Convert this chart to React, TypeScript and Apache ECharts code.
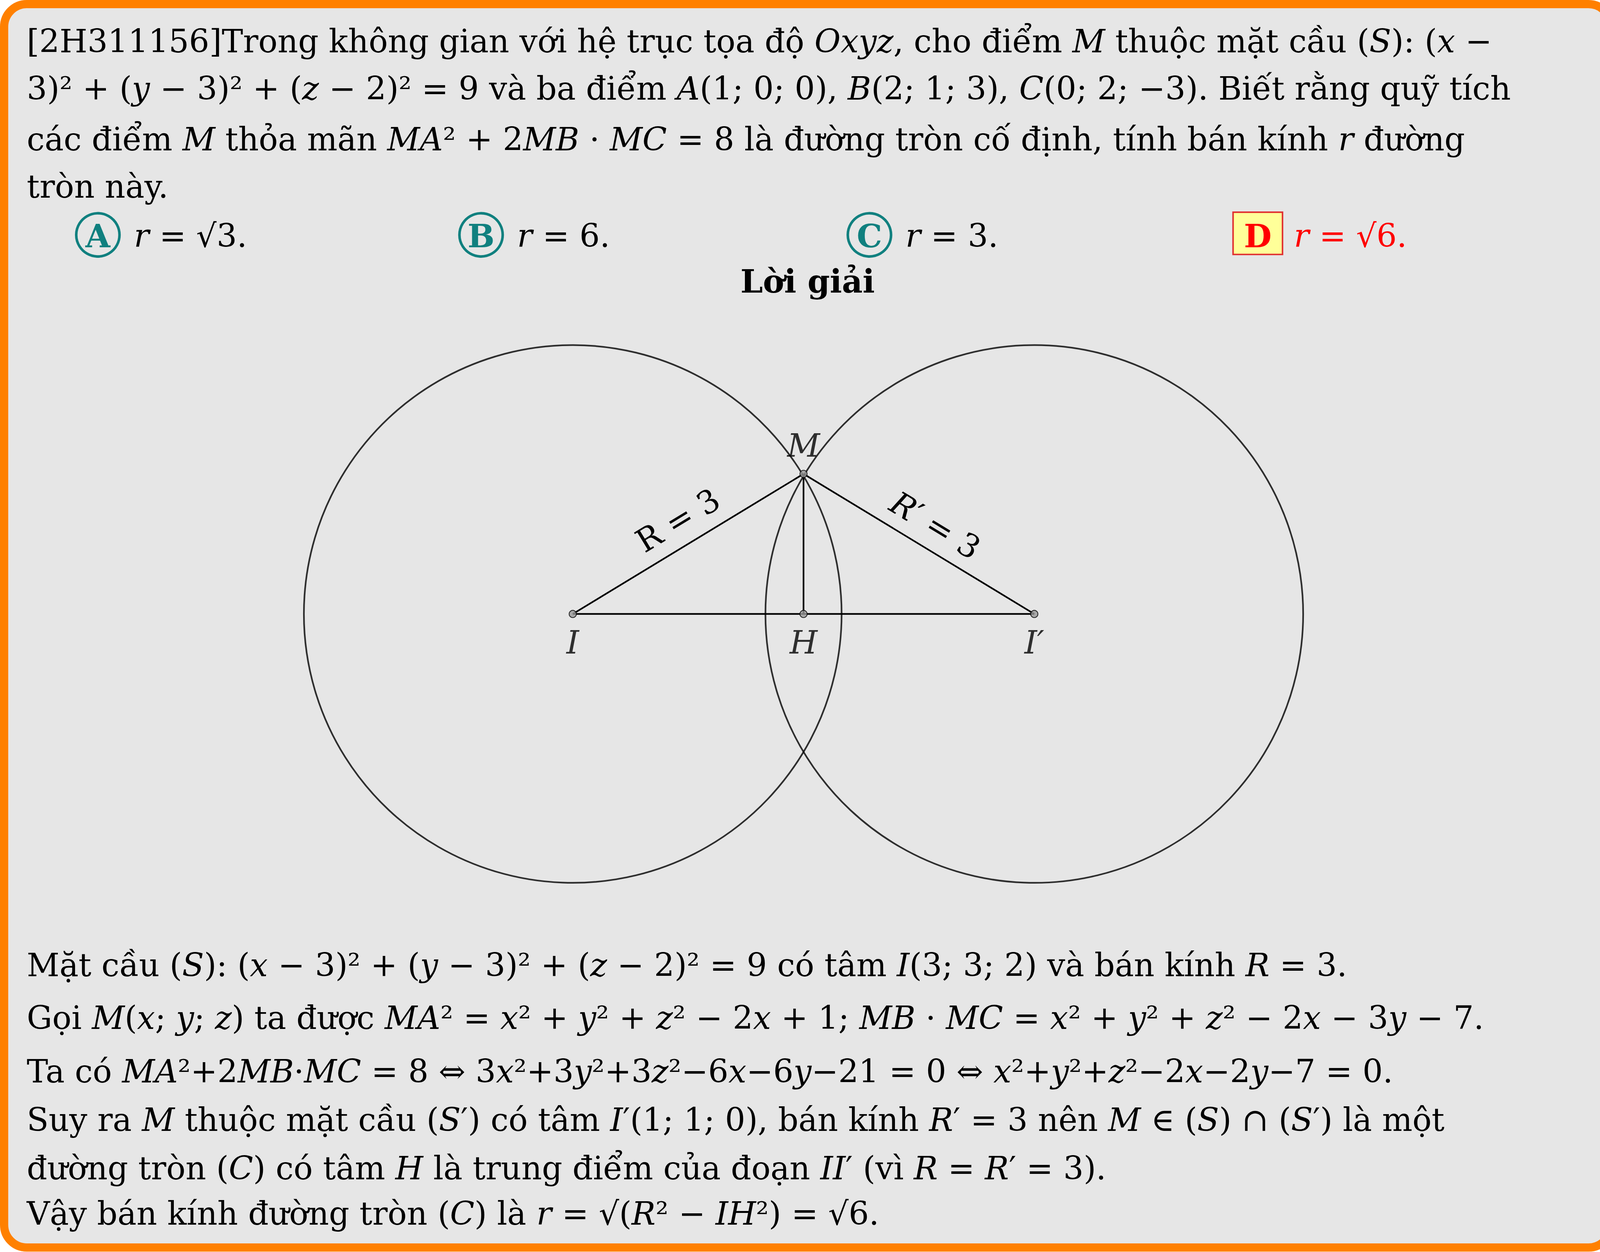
import { useEffect, useRef } from "react";
import * as echarts from "echarts";

const W = 4135;
const H = 3205;
const S = W / 1568; // reference layout measured at 1568px width

// geometry, in units where R = 3
const pointNames = ["I", "H", "I′", "M"];
const pointX = [0, 2.575, 5.15, 2.575];
const pointY = [0, 0, 0, 1.563];
const radius = 3;

const questionLines = [
  "[2H311156]Trong không gian với hệ trục tọa độ _Oxyz_, cho điểm _M_ thuộc mặt cầu (_S_): (_x_ −",
  "3)² + (_y_ − 3)² + (_z_ − 2)² = 9 và ba điểm _A_(1; 0; 0), _B_(2; 1; 3), _C_(0; 2; −3). Biết rằng quỹ tích",
  "các điểm _M_ thỏa mãn _MA_² + 2{v|MB} · {v|MC} = 8 là đường tròn cố định, tính bán kính _r_ đường",
  "tròn này.",
];
const questionY = [40, 86, 135, 181];

const optionLetters = ["A", "B", "C", "D"];
const optionTexts = ["_r_ = √3.", "_r_ = 6.", "_r_ = 3.", "_r_ = √6."];
const optionX = [95, 467, 844, 1221];

const solutionLines = [
  "Mặt cầu (_S_): (_x_ − 3)² + (_y_ − 3)² + (_z_ − 2)² = 9 có tâm _I_(3; 3; 2) và bán kính _R_ = 3.",
  "Gọi _M_(_x_; _y_; _z_) ta được _MA_² = _x_² + _y_² + _z_² − 2_x_ + 1; {v|MB} · {v|MC} = _x_² + _y_² + _z_² − 2_x_ − 3_y_ − 7.",
  "Ta có _MA_²+2{v|MB}·{v|MC} = 8 ⇔ 3_x_²+3_y_²+3_z_²−6_x_−6_y_−21 = 0 ⇔ _x_²+_y_²+_z_²−2_x_−2_y_−7 = 0.",
  "Suy ra _M_ thuộc mặt cầu (_S_′) có tâm _I_′(1; 1; 0), bán kính _R_′ = 3 nên _M_ ∈ (_S_) ∩ (_S_′) là một",
  "đường tròn (_C_) có tâm _H_ là trung điểm của đoạn _II_′ (vì _R_ = _R_′ = 3).",
  "Vậy bán kính đường tròn (_C_) là _r_ = √(_R_² − _IH_²) = √6.",
];
const solutionY = [937, 988, 1040, 1087, 1134, 1178];

const FONT = "'DejaVu Serif', 'Liberation Serif', serif";
const FS = 31 * S;
const TEAL = "#10807f";

const rt = (s: string) => s.replace(/_([^_]+)_/g, "{i|$1}");

function textEl(text: string, x: number, y: number, extra: any = {}, fill = "#000") {
  const it = { fontStyle: "italic", fontSize: FS, fontFamily: FONT, fill };
  return {
    type: "text",
    z: 10,
    style: {
      text: rt(text),
      x: x * S,
      y: y * S,
      fontSize: FS,
      fontFamily: FONT,
      fill,
      verticalAlign: "middle",
      rich: { i: it, v: { ...it, textDecoration: "overline" } },
      ...extra,
    },
  };
}

export default function App() {
  const ref = useRef<HTMLDivElement>(null);

  useEffect(() => {
    document.body.style.margin = "0";
    if (!ref.current) return;
    const chart = echarts.init(ref.current, null, { renderer: "svg" });

    const unit = 261 / 3;
    const pt = (i: number) => [pointX[i], pointY[i]];

    const graphic: any[] = [
      {
        type: "rect",
        z: -10,
        shape: { x: 4 * S, y: 4 * S, width: 1560 * S, height: 1207 * S, r: 22 * S },
        style: { fill: "#e6e6e6", stroke: "#ff8000", lineWidth: 8 * S },
      },
    ];
    questionLines.forEach((l, i) => graphic.push(textEl(l, 26, questionY[i])));
    solutionLines.forEach((l, i) => graphic.push(textEl(l, 26, solutionY[i])));
    optionLetters.forEach((L, i) => {
      const cx = optionX[i];
      const isD = i === 3;
      if (isD) {
        graphic.push({
          type: "rect",
          z: 9,
          shape: { x: (cx - 24) * S, y: 206 * S, width: 48 * S, height: 41 * S },
          style: { fill: "#ffff99", stroke: "#e03030", lineWidth: 1.5 * S },
        });
      } else {
        graphic.push({
          type: "circle",
          z: 9,
          shape: { cx: cx * S, cy: 228 * S, r: 21 * S },
          style: { fill: "none", stroke: TEAL, lineWidth: 2.5 * S },
        });
      }
      graphic.push(
        textEl(L, cx, 229, { align: "center", fontWeight: "bold" }, isD ? "#ff0000" : TEAL)
      );
      graphic.push(textEl(optionTexts[i], cx + 35, 229, {}, isD ? "#ff0000" : "#000"));
    });
    graphic.push(textEl("Lời giải", 784, 273, { align: "center", fontWeight: "bold" }));
    graphic.push({
      ...textEl("R = 3", 0, 0, { align: "center" }),
      x: 658 * S,
      y: 505 * S,
      rotation: Math.atan2(136, 224),
    });
    graphic.push({
      ...textEl("_R_′ = 3", 0, 0, { align: "center" }),
      x: 908 * S,
      y: 510 * S,
      rotation: -Math.atan2(136, 224),
    });

    const lineStyle = { color: "#000", width: 1.6 * S };
    const seg = (a: number, b: number) => ({
      type: "line",
      data: [pt(a), pt(b)],
      symbol: "none",
      lineStyle,
      z: 3,
    });

    chart.setOption({
      animation: false,
      grid: {
        left: 295 * S,
        top: 335 * S,
        width: 11.15 * unit * S,
        height: 6 * unit * S,
      },
      xAxis: { type: "value", min: -3, max: 8.15, show: false },
      yAxis: { type: "value", min: -3, max: 3, show: false },
      graphic,
      series: [
        {
          type: "scatter",
          data: [pt(0), pt(2)],
          symbol: "circle",
          symbolSize: 2 * radius * unit * S,
          itemStyle: { color: "transparent", borderColor: "#000", borderWidth: 1.6 * S },
          z: 2,
          silent: true,
        },
        seg(0, 3),
        seg(3, 2),
        seg(0, 2),
        seg(3, 1),
        {
          type: "scatter",
          z: 5,
          data: pointNames.map((n, i) => ({
            value: pt(i),
            label: {
              show: true,
              formatter: n,
              position: i === 3 ? "top" : "bottom",
              distance: 8 * S,
              fontSize: FS,
              fontFamily: FONT,
              fontStyle: "italic",
              color: "#000",
            },
          })),
          symbolSize: 7 * S,
          itemStyle: { color: "#999", borderColor: "#000", borderWidth: 0.8 * S },
        },
      ],
    });

    return () => chart.dispose();
  }, []);

  return <div ref={ref} style={{ width: W, height: H }} />;
}
